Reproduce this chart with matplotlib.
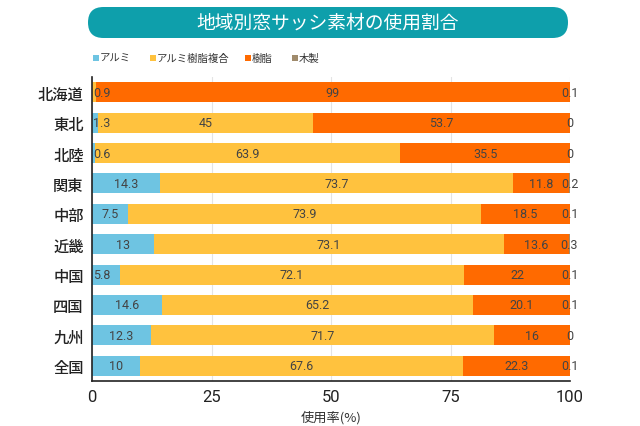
import matplotlib
matplotlib.use("Agg")
import matplotlib.pyplot as plt
from matplotlib.patches import FancyBboxPatch
import numpy as np

plt.rcParams['font.family'] = ['Noto Sans CJK JP', 'DejaVu Sans']
NUMFONT = ['Roboto', 'DejaVu Sans']

regions = ["北海道", "東北", "北陸", "関東", "中部", "近畿", "中国", "四国", "九州", "全国"]
alumi = [0.0, 1.3, 0.6, 14.3, 7.5, 13, 5.8, 14.6, 12.3, 10]
composite = [0.9, 45, 63.9, 73.7, 73.9, 73.1, 72.1, 65.2, 71.7, 67.6]
resin = [99, 53.7, 35.5, 11.8, 18.5, 13.6, 22, 20.1, 16, 22.3]
wood = [0.1, 0, 0, 0.2, 0.1, 0.3, 0.1, 0.1, 0, 0.1]
alumi_labels = [None, "1.3", "0.6", "14.3", "7.5", "13", "5.8", "14.6", "12.3", "10"]
composite_labels = ["0.9", "45", "63.9", "73.7", "73.9", "73.1", "72.1", "65.2", "71.7", "67.6"]
resin_labels = ["99", "53.7", "35.5", "11.8", "18.5", "13.6", "22", "20.1", "16", "22.3"]
wood_labels = ["0.1", "0", "0", "0.2", "0.1", "0.3", "0.1", "0.1", "0", "0.1"]
series_names = ["アルミ", "アルミ樹脂複合", "樹脂", "木製"]
colors = ["#6ec4e2", "#ffc23e", "#ff6a00", "#a08b6c"]
xticks = [0, 25, 50, 75, 100]
title = "地域別窓サッシ素材の使用割合"
xlabel = "使用率(%)"

fig = plt.figure(figsize=(6.4, 4.27), dpi=100)

# background overlay axes in pixel coordinates
bg = fig.add_axes([0, 0, 1, 1])
bg.set_xlim(0, 640)
bg.set_ylim(427, 0)
bg.axis("off")
bg.add_patch(FancyBboxPatch((88, 8), 480, 31, boxstyle="round,pad=0,rounding_size=15.5",
                            facecolor="#0e9fab", edgecolor="none"))
bg.text(328, 23.5, title, color="white", fontsize=13.5, ha="center", va="center")

# legend
leg_x = [93, 150, 245, 292]
for x, name, c in zip(leg_x, series_names, colors):
    bg.add_patch(plt.Rectangle((x, 56), 6, 6, facecolor=c, edgecolor="none"))
    bg.text(x + 7, 59, name, fontsize=7.5, va="center", ha="left", color="#333333")

ax = fig.add_axes([92/640, 1 - 382/427, (570 - 92)/640, (382 - 78)/427])
ax.set_zorder(2)
ypos = np.arange(len(regions))
h = 0.66
left = np.zeros(len(regions))
all_vals = [alumi, composite, resin, wood]
all_labels = [alumi_labels, composite_labels, resin_labels, wood_labels]
for vals, labs, c in zip(all_vals, all_labels, colors):
    vals = np.array(vals, dtype=float)
    ax.barh(ypos, vals, left=left, height=h, color=c, zorder=2)
    for i, (v, l) in enumerate(zip(vals, labs)):
        if l is None:
            continue
        cx = left[i] + v / 2
        if cx < 3:
            ax.text(0.2, ypos[i], l, ha="left", va="center", fontsize=9, color="#444444",
                    zorder=3, family=NUMFONT)
        else:
            ax.text(cx, ypos[i], l, ha="center", va="center", fontsize=9, color="#444444",
                    zorder=3, family=NUMFONT)
    left = left + vals

ax.set_xlim(0, 100)
ax.set_ylim(len(regions) - 0.5, -0.5)
ax.set_yticks(ypos)
ax.set_yticklabels(regions, fontsize=11, color="#222222", fontweight="medium")
ax.set_xticks(xticks)
ax.set_xticklabels([str(t) for t in xticks], fontsize=12, color="#222222", family=NUMFONT)
ax.tick_params(axis="both", length=0, pad=6)
ax.grid(axis="x", color="#e4e4e4", linewidth=0.8, zorder=0)
ax.set_axisbelow(True)
for s in ["top", "right"]:
    ax.spines[s].set_visible(False)
ax.spines["left"].set_color("#222222")
ax.spines["bottom"].set_color("#222222")
ax.spines["left"].set_linewidth(1.2)
ax.spines["bottom"].set_linewidth(1.2)
ax.set_xlabel(xlabel, fontsize=9.5, color="#333333", labelpad=4)

fig.savefig("out.png", dpi=100)
